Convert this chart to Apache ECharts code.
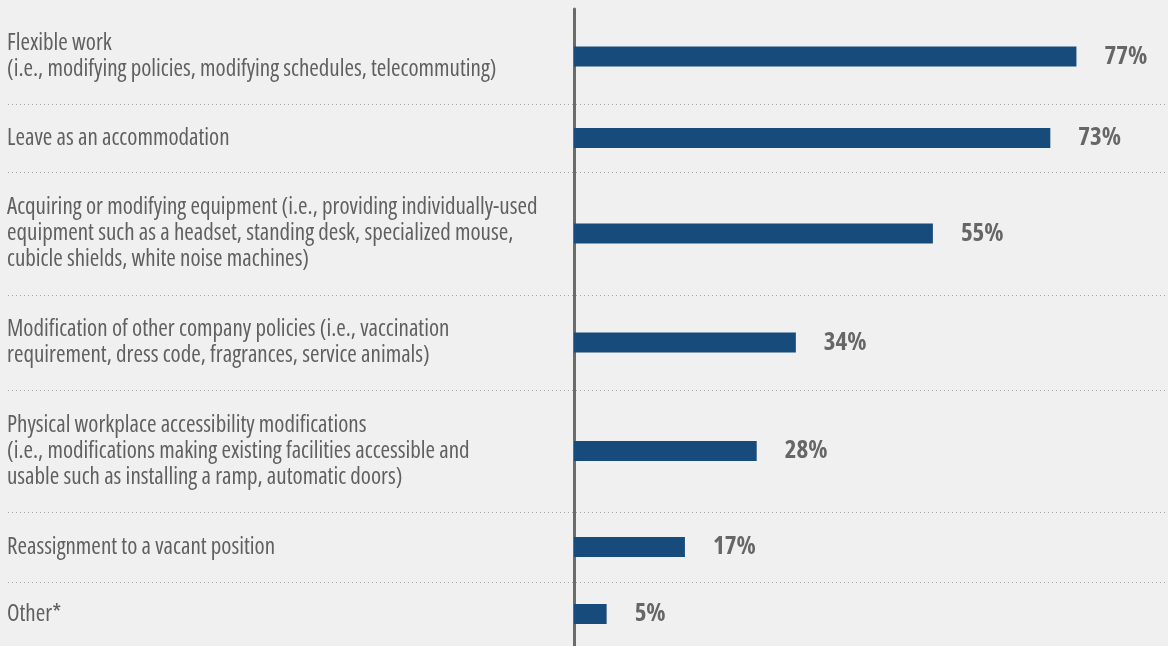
<!DOCTYPE html>
<html>
<head>
<meta charset="utf-8">
<script src="https://cdn.jsdelivr.net/npm/echarts@6/dist/echarts.min.js"></script>
<style>
  html, body { margin: 0; padding: 0; background: #f0f0f0; }
  #chart { width: 1168px; height: 646px; }
</style>
</head>
<body>
<div id="chart"></div>
<script>
// Accommodation types and share of respondents
const categories = [
  'Flexible work\n(i.e., modifying policies, modifying schedules, telecommuting)',
  'Leave as an accommodation',
  'Acquiring or modifying equipment (i.e., providing individually-used\nequipment such as a headset, standing desk, specialized mouse,\ncubicle shields, white noise machines)',
  'Modification of other company policies (i.e., vaccination\nrequirement, dress code, fragrances, service animals)',
  'Physical workplace accessibility modifications\n(i.e., modifications making existing facilities accessible and\nusable such as installing a ramp, automatic doors)',
  'Reassignment to a vacant position',
  'Other*'
];
const values = [77, 73, 55, 34, 28, 17, 5];

// Row edges (px) — each row gets its own grid so rows can differ in height
const rowEdges = [9, 104, 172, 295, 390, 512, 582, 648];
const axisX = 574;
const xMax = 80;
const plotRight = 72;

// Open Sans at condensed width (the stretch keyword rides along in the font shorthand)
const FONT = '"Open Sans", "Roboto Condensed", sans-serif';
const TEXT = '#606060';
const BAR = '#174b7c';

const grids = [], xAxes = [], yAxes = [], series = [];
categories.forEach((cat, i) => {
  grids.push({
    left: axisX,
    right: plotRight,
    top: rowEdges[i],
    height: rowEdges[i + 1] - rowEdges[i],
    containLabel: false
  });
  xAxes.push({
    gridIndex: i, type: 'value', min: 0, max: xMax, show: false
  });
  yAxes.push({
    gridIndex: i,
    type: 'category',
    data: [cat],
    axisLine: { show: true, lineStyle: { color: '#6b6b6b', width: 3 } },
    axisTick: { show: false },
    axisLabel: {
      align: 'left',
      margin: axisX - 7,
      color: TEXT,
      fontFamily: FONT,
      fontWeight: 'normal condensed',
      fontSize: 23,
      lineHeight: 26,
      verticalAlign: 'middle'
    }
  });
  series.push({
    type: 'bar',
    xAxisIndex: i,
    yAxisIndex: i,
    data: [values[i]],
    barWidth: 20,
    itemStyle: { color: BAR },
    label: {
      show: true,
      position: 'right',
      distance: 28,
      formatter: '{c}%',
      color: '#666666',
      fontFamily: FONT,
      fontWeight: 'bold condensed',
      fontSize: 25
    },
    silent: true
  });
});

// Dotted separators between rows
const separators = rowEdges.slice(1, -1).map(y => ({
  type: 'line',
  shape: { x1: 8, y1: y + 0.5, x2: 1168, y2: y + 0.5 },
  style: { stroke: '#a8a8a8', lineWidth: 1, lineDash: [1, 3] },
  z: -1
}));

const chart = echarts.init(document.getElementById('chart'));
chart.setOption({
  backgroundColor: '#f0f0f0',
  animation: false,
  grid: grids,
  xAxis: xAxes,
  yAxis: yAxes,
  series: series,
  graphic: separators
});
</script>
</body>
</html>
